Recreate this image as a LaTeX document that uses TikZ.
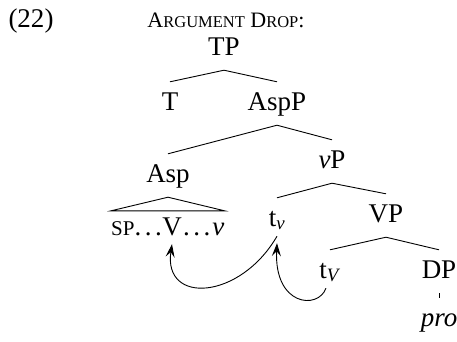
\documentclass[tikz,border=0pt]{standalone}
\usepackage{fontspec}
\setmainfont{Liberation Serif}
\usetikzlibrary{arrows.meta,calc}

\newcommand{\fsc}[2][16.5]{{\fontsize{#1}{#1}\selectfont #2}}
\newcommand{\dts}{.\hspace{3.5pt}.\hspace{3.5pt}.}

\tikzset{
  cat/.style={anchor=base, inner xsep=1pt, inner ysep=9pt, text height=19pt, text depth=6pt},
  leaf/.style={anchor=base, inner xsep=0pt, inner ysep=3pt, text height=21pt, text depth=6pt},
  branch/.style={line width=0.9pt},
  mv/.style={line width=0.9pt, -{Stealth[length=13pt,width=9pt,inset=5pt]}}
}

\begin{document}
\begin{tikzpicture}[x=1pt, y=-1pt, font=\fontsize{27}{31}\selectfont]
  \useasboundingbox (0,0) rectangle (457,341);
  % example number and title
  \node[anchor=base] (ex) at (31,27) {(22)};
  \node[anchor=base, font=\fontsize{22}{26}\selectfont] (title) at (226,27) {A\fsc{RGUMENT} D\fsc{ROP}:};

  % tree
  \node[cat] (TP) at (224,55) {TP};
  \node[cat] (T) at (170,110) {T};
  \node[cat] (AspP) at (277,110) {AspP};
  \node[cat] (Asp) at (168,182) {Asp};
  \node[cat] (vP) at (332,168) {\textit{v}P};
  \node[cat] (tv) at (277,226) {t\textsubscript{\textit{v}}};
  \node[cat] (VP) at (386,222) {VP};
  \node[cat] (tV) at (330,278) {t\textsubscript{\textit{V}}};
  \node[cat] (DP) at (439,278) {DP};
  \node[cat] (pro) at (439,326) {\textit{pro}};

  % leaf under the roof
  \node[leaf] (V) at (172,235) {V};
  \node[leaf, anchor=base east] (spd) at (V.base west) {\fsc[21]{SP}\dts\hspace{3pt}};
  \node[leaf, anchor=base west] (vd) at (V.base east) {\hspace{1pt}\dts\hspace{2pt}\textit{v}};

  \foreach \p/\c in {TP/T, TP/AspP, AspP/Asp, AspP/vP, vP/tv, vP/VP, VP/tV, VP/DP, DP/pro}
    \draw[branch] (\p.south) -- (\c.north);
  \draw[branch] (Asp.south) -- (spd.north west) -- (vd.north east) -- cycle;

  % movement
  \draw[mv] ([yshift=5pt]tv.south) .. controls (240,300) and (163,305) .. (V.south);
  \draw[mv] ([shift={(-4pt,5pt)}]tV.south) .. controls (318,310) and (274,306) .. ([yshift=-2pt]tv.south);
\end{tikzpicture}
\end{document}
